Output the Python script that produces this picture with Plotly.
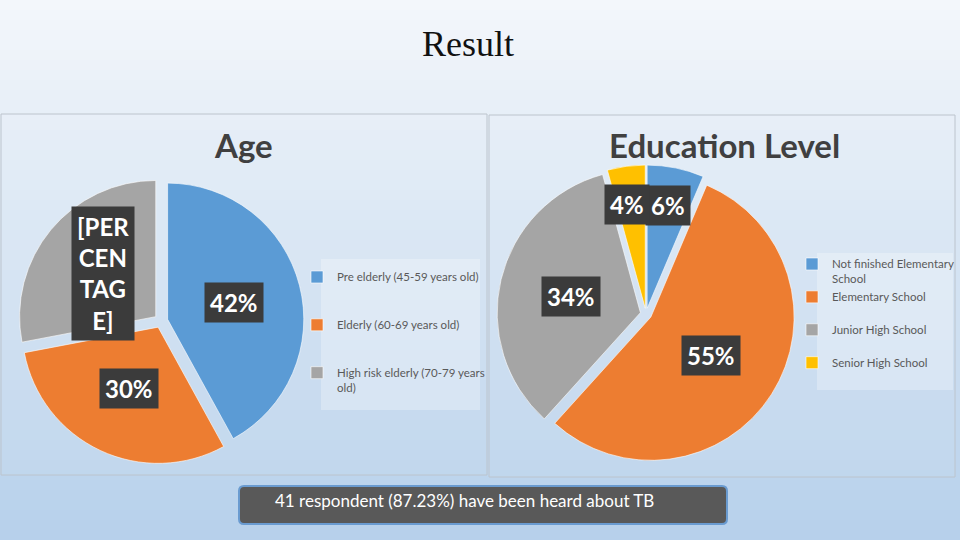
import math
import textwrap
import plotly.graph_objects as go

W, H = 960, 540

# ---------------- data ----------------
page_title = "Result"

age_title = "Age"
age_groups = ["Pre elderly (45-59 years old)", "Elderly (60-69 years old)",
              "High risk elderly (70-79 years old)"]
age_values = [42, 30, 28]
age_label_text = ["42%", "30%", "[PER<br>CEN<br>TAG<br>E]"]

edu_title = "Education Level"
edu_levels = ["Not finished Elementary School", "Elementary School",
              "Junior High School", "Senior High School"]
edu_values = [3, 26, 16, 2]
edu_label_text = [f"{round(100 * v / sum(edu_values))}%" for v in edu_values]

note_text = "41 respondent (87.23%) have been heard about TB"

# ---------------- styles ----------------
COLORS = ["#5b9bd5", "#ed7d31", "#a5a5a5", "#ffc000"]
FONT = "Lato"
age_pull = 0.05
edu_pull = 0.04


def px_x(x):
    return x / W


def px_y(y):
    return 1 - y / H


age_domain = dict(x=[px_x(18), px_x(304)], y=[px_y(464), px_y(178)])
edu_domain = dict(x=[px_x(497), px_x(795)], y=[px_y(463), px_y(165)])


def legend_names(names, width, min_lines):
    out = []
    for n in names:
        lines = textwrap.wrap(n, width)
        while len(lines) < min_lines:
            lines.append("\u00a0")
        out.append("<br>".join(lines))
    return out


fig = go.Figure()

fig.add_trace(go.Pie(
    labels=legend_names(age_groups[:-1], 30, 3) + legend_names(age_groups[-1:], 30, 1),
    values=age_values, sort=False, direction="clockwise", rotation=0,
    pull=[age_pull] * len(age_values), textinfo="none", domain=age_domain,
    marker=dict(colors=COLORS[:len(age_values)], line=dict(color="rgba(255,255,255,0.6)", width=1)),
    legend="legend", hoverinfo="label+percent",
))

fig.add_trace(go.Pie(
    labels=legend_names(edu_levels, 23, 2),
    values=edu_values, sort=False, direction="clockwise", rotation=0,
    pull=[edu_pull] * len(edu_values), textinfo="none", domain=edu_domain,
    marker=dict(colors=COLORS[:len(edu_values)], line=dict(color="rgba(255,255,255,0.6)", width=1)),
    legend="legend2", hoverinfo="label+percent",
))

annotations = []


def add_slice_labels(values, texts, domain, pull):
    x0, x1 = domain["x"]
    y0, y1 = domain["y"]
    cx = (x0 + x1) / 2 * W
    cy = (1 - (y0 + y1) / 2) * H
    r = min((x1 - x0) * W, (y1 - y0) * H) / (2 * (1 + pull))
    total = sum(values)
    cum = 0.0
    for v, t in zip(values, texts):
        share = v / total
        theta = 2 * math.pi * (cum + share / 2)
        small = share < 0.1
        frac = 0.73 if small else 0.5
        d = (frac + pull) * r
        x = cx + d * math.sin(theta)
        y = cy - d * math.cos(theta)
        shift = -4 if (small and math.sin(theta) < 0) else 0
        annotations.append(dict(
            x=px_x(x), y=px_y(y), xref="paper", yref="paper", text=t, showarrow=False,
            xanchor="center", yanchor="middle", xshift=shift,
            font=dict(family=FONT, size=24, color="white", weight="bold"),
            bgcolor="#3b3b3b", borderpad=5,
        ))
        cum += share


add_slice_labels(age_values, age_label_text, age_domain, age_pull)
add_slice_labels(edu_values, edu_label_text, edu_domain, edu_pull)

# titles
title_common = dict(xref="paper", yref="paper", showarrow=False, xanchor="center", yanchor="middle")
annotations.append(dict(x=px_x(468), y=px_y(44), text=page_title,
                        font=dict(family="Liberation Serif", size=36, color="#111111"), **title_common))
annotations.append(dict(x=px_x(243), y=px_y(145), text=age_title,
                        font=dict(family=FONT, size=33, color="#404040", weight="bold"), **title_common))
annotations.append(dict(x=px_x(724), y=px_y(145), text=edu_title,
                        font=dict(family=FONT, size=33, color="#404040", weight="bold"), **title_common))
annotations.append(dict(x=px_x(273), y=px_y(500), xref="paper", yref="paper", text=note_text,
                        showarrow=False, xanchor="left", yanchor="middle",
                        font=dict(family=FONT, size=17, color="white")))

# ---------------- background shapes ----------------
shapes = []
top = (244, 247, 251)
bot = (182, 208, 235)
n = 54
for i in range(n):
    t = (i + 0.5) / n
    c = tuple(round(top[k] + (bot[k] - top[k]) * t) for k in range(3))
    shapes.append(dict(type="rect", xref="paper", yref="paper", layer="below",
                       x0=0, x1=1, y0=1 - (i + 1) / n - 0.002, y1=1 - i / n,
                       fillcolor=f"rgb{c}", line=dict(width=0)))

# panels
for (a, b, c, d) in [(1, 487, 114, 475), (489, 955, 115, 477)]:
    shapes.append(dict(type="rect", xref="paper", yref="paper", layer="below",
                       x0=px_x(a), x1=px_x(b), y0=px_y(d), y1=px_y(c),
                       line=dict(color="#bcc4cd", width=1), fillcolor="rgba(255,255,255,0.05)"))

# legend boxes
for (a, b, c, d) in [(321, 480, 259, 410), (817, 953, 253, 390)]:
    shapes.append(dict(type="rect", xref="paper", yref="paper", layer="below",
                       x0=px_x(a), x1=px_x(b), y0=px_y(d), y1=px_y(c),
                       line=dict(width=0), fillcolor="rgba(255,255,255,0.28)"))

# rounded note box
bx0, bx1, by0, by1, rr = 239, 727, 486, 524, 5


def P(x, y):
    return f"{px_x(x):.5f},{px_y(y):.5f}"


path = (f"M {P(bx0 + rr, by0)} L {P(bx1 - rr, by0)} Q {P(bx1, by0)} {P(bx1, by0 + rr)} "
        f"L {P(bx1, by1 - rr)} Q {P(bx1, by1)} {P(bx1 - rr, by1)} "
        f"L {P(bx0 + rr, by1)} Q {P(bx0, by1)} {P(bx0, by1 - rr)} "
        f"L {P(bx0, by0 + rr)} Q {P(bx0, by0)} {P(bx0 + rr, by0)} Z")
shapes.append(dict(type="path", xref="paper", yref="paper", path=path,
                   fillcolor="#595959", line=dict(color="#6a9bd0", width=2)))

legend_common = dict(xanchor="left", yanchor="top", bgcolor="rgba(0,0,0,0)",
                     font=dict(family=FONT, size=11.5, color="#595959"), valign="top",
                     itemclick=False, itemdoubleclick=False, borderwidth=0)

fig.update_layout(
    width=W, height=H, margin=dict(l=0, r=0, t=0, b=0),
    paper_bgcolor="rgb(244,247,251)",
    showlegend=True,
    legend=dict(x=px_x(297), y=px_y(263), **legend_common),
    legend2=dict(x=px_x(792), y=px_y(250), **legend_common),
    annotations=annotations,
    shapes=shapes,
)

fig.write_html("out.html")
